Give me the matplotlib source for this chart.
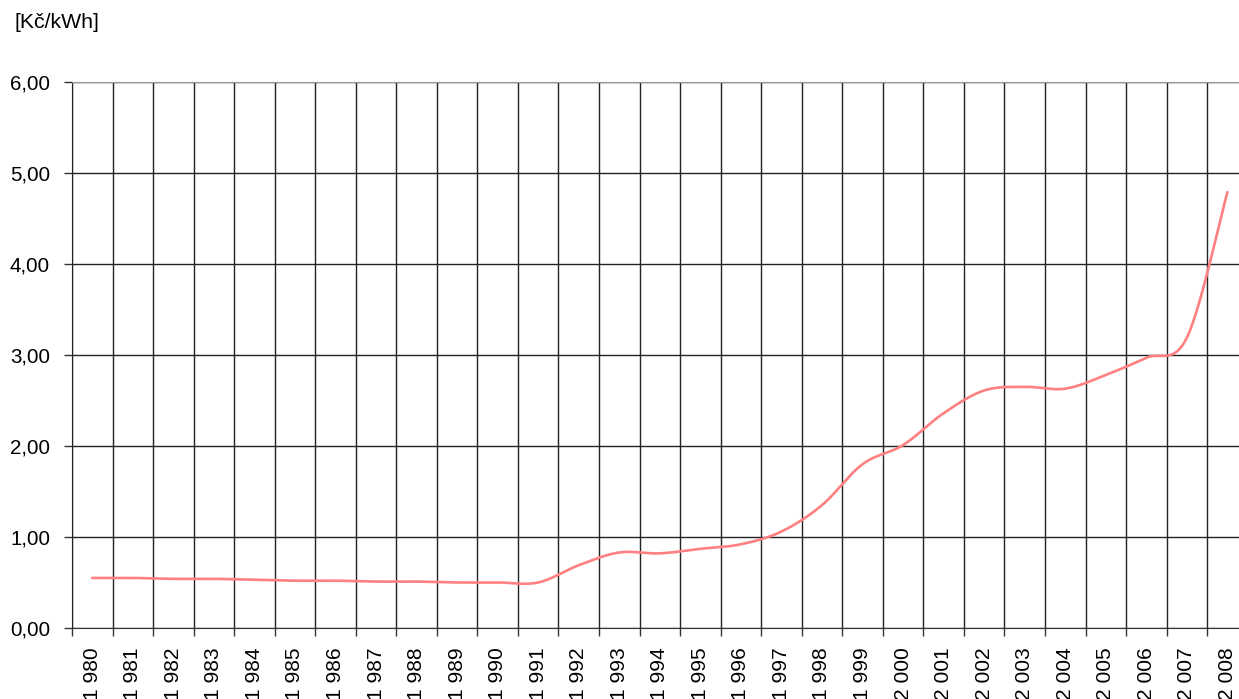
import numpy as np
import matplotlib
matplotlib.use('Agg')
import matplotlib.pyplot as plt

years = list(range(1980, 2009))
price = [0.55, 0.55, 0.54, 0.54, 0.53, 0.52, 0.52, 0.51, 0.51, 0.50,
         0.50, 0.50, 0.69, 0.83, 0.82, 0.87, 0.92, 1.06, 1.35, 1.80,
         2.01, 2.36, 2.61, 2.65, 2.63, 2.78, 2.97, 3.19, 4.79]
year_labels = ['{} {:03d}'.format(y // 1000, y % 1000) for y in years]
y_ticks = [0, 1, 2, 3, 4, 5, 6]
y_labels = ['{:.2f}'.format(v).replace('.', ',') for v in y_ticks]
unit = '[Kč/kWh]'

def smooth_line(x, y, n=30):
    # bezier smoothing like spreadsheet "smoothed line"
    x = np.asarray(x, float)
    y = np.asarray(y, float)
    px = np.concatenate([[x[0]], x, [x[-1]]])
    py = np.concatenate([[y[0]], y, [y[-1]]])
    xs, ys = [], []
    t = np.linspace(0, 1, n)
    for i in range(len(x) - 1):
        p0 = np.array([px[i + 1], py[i + 1]])
        p3 = np.array([px[i + 2], py[i + 2]])
        p1 = p0 + (np.array([px[i + 2], py[i + 2]]) - np.array([px[i], py[i]])) / 6
        p2 = p3 - (np.array([px[i + 3], py[i + 3]]) - np.array([px[i + 1], py[i + 1]])) / 6
        b = ((1 - t) ** 3)[:, None] * p0 + (3 * (1 - t) ** 2 * t)[:, None] * p1 \
            + (3 * (1 - t) * t ** 2)[:, None] * p2 + (t ** 3)[:, None] * p3
        xs.extend(b[:, 0])
        ys.extend(b[:, 1])
    return np.array(xs), np.array(ys)

plt.rcParams['font.family'] = ['Liberation Sans', 'DejaVu Sans']

fig = plt.figure(figsize=(12.39, 6.99), dpi=100)
ax = fig.add_axes([0.0581, 0.1016, 0.9489, 0.7811])

xpos = np.arange(len(years))
sx, sy = smooth_line(xpos, price)
ax.plot(sx, sy, color='#ff8080', linewidth=1.9, solid_capstyle='round', zorder=3)

ax.set_xlim(-0.5, len(years) - 0.5)
ax.set_ylim(0, 6)

ax.set_xticks(np.arange(len(years) + 1) - 0.5)
ax.set_xticklabels([])
ax.set_xticks(xpos, minor=True)
ax.set_xticklabels(year_labels, minor=True, rotation=90, fontsize=15.1)
ax.tick_params(axis='x', which='minor', length=0, pad=14.2)
ax.tick_params(axis='x', which='major', length=6, width=1.0, color='#333333')

ax.set_yticks(y_ticks)
ax.set_yticklabels(y_labels, fontsize=14.8)
ax.tick_params(axis='y', length=6, width=1.0, color='#333333', pad=9.8)

ax.grid(which='major', color='#222222', linewidth=1.0)
ax.set_axisbelow(True)

ax.spines['right'].set_visible(False)
ax.spines['top'].set_color('#999999')
ax.spines['left'].set_color('#222222')
ax.spines['bottom'].set_color('#333333')

fig.text(14 / 1239, 1 - 23 / 699, unit, fontsize=15.3, va='center', ha='left')

fig.savefig('out.png', dpi=100)
